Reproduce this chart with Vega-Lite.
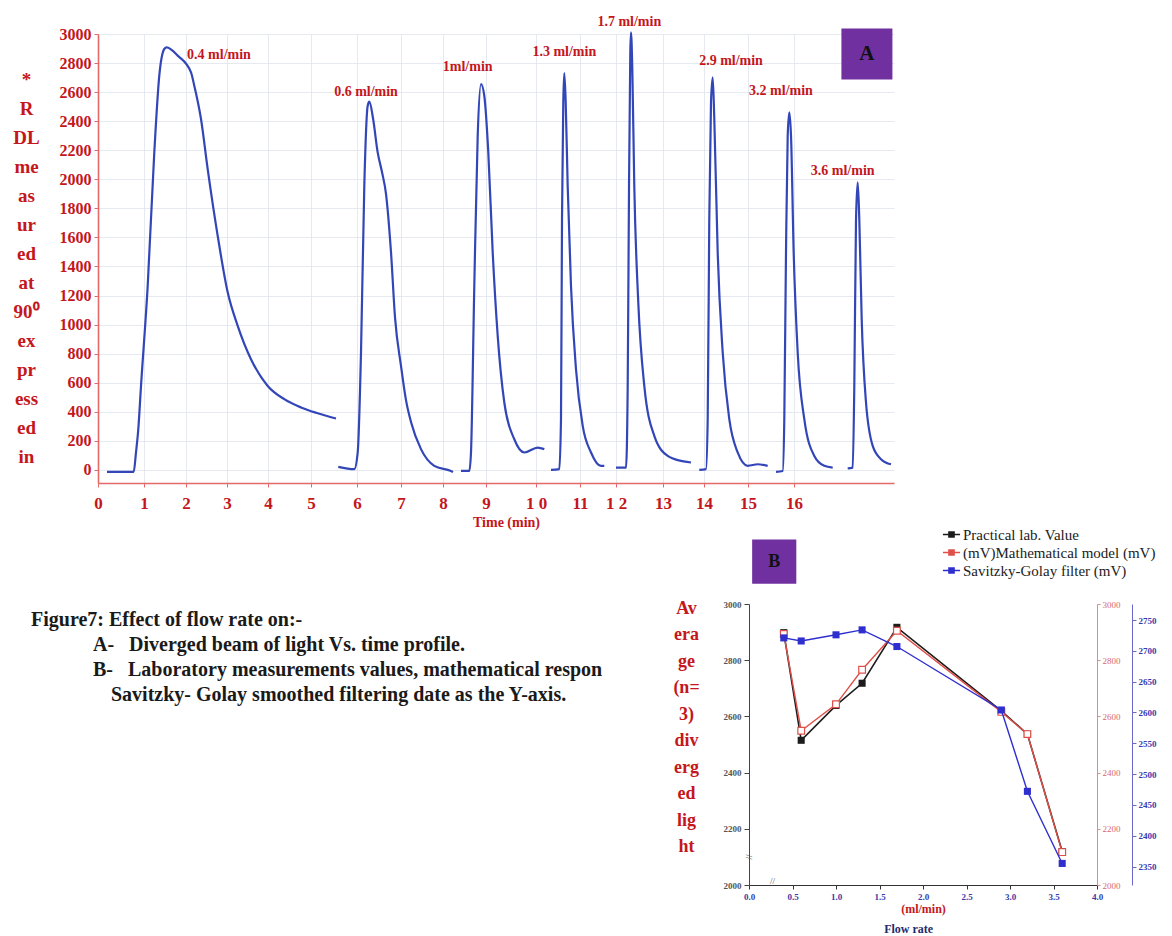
{
  "$schema": "https://vega.github.io/schema/vega-lite/v6.json",
  "background": "white",
  "padding": {"left": 12, "top": 14, "right": 4, "bottom": 0},
  "autosize": {"type": "pad"},
  "bounds": "flush",
  "spacing": 121,
  "config": {
    "view": {"stroke": null},
    "font": "Liberation Serif",
    "axis": {"labelFont": "Liberation Serif", "titleFont": "Liberation Serif", "labelFlush": false, "labelOverlap": false},
    "text": {"font": "Liberation Serif"}
  },
  "datasets": {
    "chromatogram": [
      {"rate": "0.4 ml/min", "t": 0.196, "v": -14}, {"rate": "0.4 ml/min", "t": 0.776, "v": -14}, {"rate": "0.4 ml/min", "t": 0.826, "v": 120}, {"rate": "0.4 ml/min", "t": 0.876, "v": 280}, {"rate": "0.4 ml/min", "t": 0.935, "v": 578}, {"rate": "0.4 ml/min", "t": 1.088, "v": 1267}, {"rate": "0.4 ml/min", "t": 1.245, "v": 2185}, {"rate": "0.4 ml/min", "t": 1.364, "v": 2713}, {"rate": "0.4 ml/min", "t": 1.483, "v": 2897}, {"rate": "0.4 ml/min", "t": 1.54, "v": 2908}, {"rate": "0.4 ml/min", "t": 1.802, "v": 2851}, {"rate": "0.4 ml/min", "t": 2.122, "v": 2736}, {"rate": "0.4 ml/min", "t": 2.202, "v": 2644}, {"rate": "0.4 ml/min", "t": 2.366, "v": 2415}, {"rate": "0.4 ml/min", "t": 2.529, "v": 2070}, {"rate": "0.4 ml/min", "t": 2.773, "v": 1611}, {"rate": "0.4 ml/min", "t": 3.017, "v": 1222}, {"rate": "0.4 ml/min", "t": 3.261, "v": 992}, {"rate": "0.4 ml/min", "t": 3.585, "v": 762}, {"rate": "0.4 ml/min", "t": 3.993, "v": 578}, {"rate": "0.4 ml/min", "t": 4.379, "v": 487}, {"rate": "0.4 ml/min", "t": 4.767, "v": 430}, {"rate": "0.4 ml/min", "t": 5.146, "v": 390}, {"rate": "0.4 ml/min", "t": 5.543, "v": 354},
      {"rate": "0.6 ml/min", "t": 5.593, "v": 21}, {"rate": "0.6 ml/min", "t": 5.941, "v": 5}, {"rate": "0.6 ml/min", "t": 6.016, "v": 120}, {"rate": "0.6 ml/min", "t": 6.091, "v": 808}, {"rate": "0.6 ml/min", "t": 6.166, "v": 1956}, {"rate": "0.6 ml/min", "t": 6.243, "v": 2506}, {"rate": "0.6 ml/min", "t": 6.28, "v": 2534}, {"rate": "0.6 ml/min", "t": 6.364, "v": 2420}, {"rate": "0.6 ml/min", "t": 6.47, "v": 2185}, {"rate": "0.6 ml/min", "t": 6.568, "v": 2050}, {"rate": "0.6 ml/min", "t": 6.659, "v": 1900}, {"rate": "0.6 ml/min", "t": 6.773, "v": 1497}, {"rate": "0.6 ml/min", "t": 6.864, "v": 1050}, {"rate": "0.6 ml/min", "t": 7.0, "v": 716}, {"rate": "0.6 ml/min", "t": 7.119, "v": 480}, {"rate": "0.6 ml/min", "t": 7.238, "v": 330}, {"rate": "0.6 ml/min", "t": 7.476, "v": 143}, {"rate": "0.6 ml/min", "t": 7.793, "v": 28}, {"rate": "0.6 ml/min", "t": 8.186, "v": -7}, {"rate": "0.6 ml/min", "t": 8.233, "v": -14},
      {"rate": "1ml/min", "t": 8.419, "v": -7}, {"rate": "1ml/min", "t": 8.612, "v": -7}, {"rate": "1ml/min", "t": 8.651, "v": 120}, {"rate": "1ml/min", "t": 8.728, "v": 1267}, {"rate": "1ml/min", "t": 8.807, "v": 2300}, {"rate": "1ml/min", "t": 8.884, "v": 2656}, {"rate": "1ml/min", "t": 8.96, "v": 2575}, {"rate": "1ml/min", "t": 9.046, "v": 2185}, {"rate": "1ml/min", "t": 9.134, "v": 1497}, {"rate": "1ml/min", "t": 9.234, "v": 923}, {"rate": "1ml/min", "t": 9.366, "v": 464}, {"rate": "1ml/min", "t": 9.566, "v": 211}, {"rate": "1ml/min", "t": 9.766, "v": 120}, {"rate": "1ml/min", "t": 10.039, "v": 154}, {"rate": "1ml/min", "t": 10.189, "v": 143},
      {"rate": "1.3 ml/min", "t": 10.341, "v": 0}, {"rate": "1.3 ml/min", "t": 10.53, "v": 5}, {"rate": "1.3 ml/min", "t": 10.568, "v": 349}, {"rate": "1.3 ml/min", "t": 10.591, "v": 1725}, {"rate": "1.3 ml/min", "t": 10.62, "v": 2530}, {"rate": "1.3 ml/min", "t": 10.643, "v": 2731}, {"rate": "1.3 ml/min", "t": 10.675, "v": 2530}, {"rate": "1.3 ml/min", "t": 10.72, "v": 1956}, {"rate": "1.3 ml/min", "t": 10.795, "v": 1267}, {"rate": "1.3 ml/min", "t": 10.909, "v": 693}, {"rate": "1.3 ml/min", "t": 11.075, "v": 303}, {"rate": "1.3 ml/min", "t": 11.306, "v": 120}, {"rate": "1.3 ml/min", "t": 11.583, "v": 28}, {"rate": "1.3 ml/min", "t": 11.675, "v": 28},
      {"rate": "1.7 ml/min", "t": 12.0, "v": 16}, {"rate": "1.7 ml/min", "t": 12.213, "v": 16}, {"rate": "1.7 ml/min", "t": 12.249, "v": 578}, {"rate": "1.7 ml/min", "t": 12.277, "v": 1956}, {"rate": "1.7 ml/min", "t": 12.304, "v": 2874}, {"rate": "1.7 ml/min", "t": 12.319, "v": 3012}, {"rate": "1.7 ml/min", "t": 12.347, "v": 2759}, {"rate": "1.7 ml/min", "t": 12.389, "v": 1956}, {"rate": "1.7 ml/min", "t": 12.474, "v": 1153}, {"rate": "1.7 ml/min", "t": 12.602, "v": 578}, {"rate": "1.7 ml/min", "t": 12.815, "v": 234}, {"rate": "1.7 ml/min", "t": 13.115, "v": 96}, {"rate": "1.7 ml/min", "t": 13.439, "v": 62}, {"rate": "1.7 ml/min", "t": 13.683, "v": 51},
      {"rate": "2.9 ml/min", "t": 13.885, "v": 0}, {"rate": "2.9 ml/min", "t": 14.045, "v": 5}, {"rate": "2.9 ml/min", "t": 14.084, "v": 349}, {"rate": "2.9 ml/min", "t": 14.12, "v": 1725}, {"rate": "2.9 ml/min", "t": 14.159, "v": 2530}, {"rate": "2.9 ml/min", "t": 14.198, "v": 2702}, {"rate": "2.9 ml/min", "t": 14.234, "v": 2415}, {"rate": "2.9 ml/min", "t": 14.311, "v": 1497}, {"rate": "2.9 ml/min", "t": 14.425, "v": 808}, {"rate": "2.9 ml/min", "t": 14.575, "v": 349}, {"rate": "2.9 ml/min", "t": 14.766, "v": 120}, {"rate": "2.9 ml/min", "t": 14.993, "v": 28}, {"rate": "2.9 ml/min", "t": 15.211, "v": 39}, {"rate": "2.9 ml/min", "t": 15.428, "v": 28},
      {"rate": "3.2 ml/min", "t": 15.609, "v": -14}, {"rate": "3.2 ml/min", "t": 15.754, "v": -7}, {"rate": "3.2 ml/min", "t": 15.789, "v": 349}, {"rate": "3.2 ml/min", "t": 15.826, "v": 1497}, {"rate": "3.2 ml/min", "t": 15.863, "v": 2300}, {"rate": "3.2 ml/min", "t": 15.898, "v": 2461}, {"rate": "3.2 ml/min", "t": 15.935, "v": 2300}, {"rate": "3.2 ml/min", "t": 15.993, "v": 1497}, {"rate": "3.2 ml/min", "t": 16.082, "v": 808}, {"rate": "3.2 ml/min", "t": 16.229, "v": 349}, {"rate": "3.2 ml/min", "t": 16.451, "v": 96}, {"rate": "3.2 ml/min", "t": 16.673, "v": 28}, {"rate": "3.2 ml/min", "t": 16.86, "v": 16},
      {"rate": "3.6 ml/min", "t": 17.193, "v": 10}, {"rate": "3.6 ml/min", "t": 17.304, "v": 16}, {"rate": "3.6 ml/min", "t": 17.34, "v": 578}, {"rate": "3.6 ml/min", "t": 17.378, "v": 1725}, {"rate": "3.6 ml/min", "t": 17.416, "v": 1979}, {"rate": "3.6 ml/min", "t": 17.451, "v": 1725}, {"rate": "3.6 ml/min", "t": 17.504, "v": 1038}, {"rate": "3.6 ml/min", "t": 17.6, "v": 464}, {"rate": "3.6 ml/min", "t": 17.749, "v": 165}, {"rate": "3.6 ml/min", "t": 17.933, "v": 74}, {"rate": "3.6 ml/min", "t": 18.156, "v": 39}
    ],
    "peaklabels": [
      {"rate": "0.4 ml/min", "t": 2.805, "v": 2855},
      {"rate": "0.6 ml/min", "t": 6.205, "v": 2600},
      {"rate": "1ml/min", "t": 8.574, "v": 2771},
      {"rate": "1.3 ml/min", "t": 10.643, "v": 2876},
      {"rate": "1.7 ml/min", "t": 12.283, "v": 3083},
      {"rate": "2.9 ml/min", "t": 14.614, "v": 2814},
      {"rate": "3.2 ml/min", "t": 15.717, "v": 2607},
      {"rate": "3.6 ml/min", "t": 17.082, "v": 2060}
    ],
    "flow": [
      {"series": "Practical lab. Value (mV)", "flow": 0.4, "value": 2898},
      {"series": "Practical lab. Value (mV)", "flow": 0.6, "value": 2515},
      {"series": "Practical lab. Value (mV)", "flow": 1.0, "value": 2639},
      {"series": "Practical lab. Value (mV)", "flow": 1.3, "value": 2718},
      {"series": "Practical lab. Value (mV)", "flow": 1.7, "value": 2917},
      {"series": "Practical lab. Value (mV)", "flow": 2.9, "value": 2620},
      {"series": "Practical lab. Value (mV)", "flow": 3.2, "value": 2537},
      {"series": "Practical lab. Value (mV)", "flow": 3.6, "value": 2119},
      {"series": "Mathematical model (mV)", "flow": 0.4, "value": 2893},
      {"series": "Mathematical model (mV)", "flow": 0.6, "value": 2549},
      {"series": "Mathematical model (mV)", "flow": 1.0, "value": 2643},
      {"series": "Mathematical model (mV)", "flow": 1.3, "value": 2766},
      {"series": "Mathematical model (mV)", "flow": 1.7, "value": 2905},
      {"series": "Mathematical model (mV)", "flow": 2.9, "value": 2616},
      {"series": "Mathematical model (mV)", "flow": 3.2, "value": 2537},
      {"series": "Mathematical model (mV)", "flow": 3.6, "value": 2117},
      {"series": "Savitzky-Golay filter (mV)", "flow": 0.4, "value": 2721},
      {"series": "Savitzky-Golay filter (mV)", "flow": 0.6, "value": 2716},
      {"series": "Savitzky-Golay filter (mV)", "flow": 1.0, "value": 2726},
      {"series": "Savitzky-Golay filter (mV)", "flow": 1.3, "value": 2734},
      {"series": "Savitzky-Golay filter (mV)", "flow": 1.7, "value": 2707},
      {"series": "Savitzky-Golay filter (mV)", "flow": 2.9, "value": 2604},
      {"series": "Savitzky-Golay filter (mV)", "flow": 3.2, "value": 2472},
      {"series": "Savitzky-Golay filter (mV)", "flow": 3.6, "value": 2355}
    ],
    "caption": [
      {"line": 1, "text": "Figure7: Effect of flow rate on:-"},
      {"line": 2, "text": "A-\u00a0\u00a0 Diverged beam of light Vs. time profile."},
      {"line": 3, "text": "B-\u00a0\u00a0 Laboratory measurements values, mathematical respon"},
      {"line": 4, "text": "Savitzky- Golay smoothed filtering date as the Y-axis."}
    ]
  },
  "vconcat": [
    {
      "width": 796,
      "height": 449,
      "layer": [
        {
          "data": {"name": "chromatogram"},
          "mark": {"type": "line", "color": "#3346b8", "strokeWidth": 2.2, "interpolate": "monotone"},
          "encoding": {
            "x": {
              "field": "t", "type": "quantitative",
              "scale": {"domain": [0, 1, 2, 3, 4, 5, 6, 7, 8, 9, 10, 11, 12, 13, 14, 15, 16, 18.222], "range": [0, 46, 88, 129, 170, 213, 259, 303, 345, 388, 438, 482, 518, 565, 606, 650, 696, 796], "nice": false, "zero": false},
              "axis": {
                "values": [0, 1, 2, 3, 4, 5, 6, 7, 8, 9, 10, 11, 12, 13, 14, 15, 16],
                "labelExpr": "datum.value == 10 ? '1 0' : datum.value == 12 ? '1 2' : datum.label",
                "labelOverlap": false,
                "labelColor": "#c4161c", "labelFontSize": 17, "labelFontWeight": "bold", "labelPadding": 8,
                "domainColor": "#e46a6a", "domainWidth": 1.6, "tickColor": "#e46a6a", "tickSize": 4,
                "grid": true, "gridColor": "#dfe3ec", "gridWidth": 0.8,
                "title": "Time (min)", "titleColor": "#c4161c", "titleFontSize": 14, "titleFontWeight": "bold", "titlePadding": 4, "titleX": 408
              }
            },
            "y": {
              "field": "v", "type": "quantitative",
              "scale": {"domain": [-90, 3000], "nice": false, "zero": false},
              "axis": {
                "values": [0, 200, 400, 600, 800, 1000, 1200, 1400, 1600, 1800, 2000, 2200, 2400, 2600, 2800, 3000],
                "tickCount": 16,
                "format": "d", "labelOverlap": false,
                "labelColor": "#c4161c", "labelFontSize": 16, "labelFontWeight": "bold", "labelPadding": 3,
                "domainColor": "#e46a6a", "domainWidth": 1.6, "tickColor": "#e46a6a", "tickSize": 4,
                "grid": true, "gridColor": "#dfe3ec", "gridWidth": 0.8,
                "title": ["*", "R", "DL", "me", "as", "ur", "ed", "at", "90⁰", "ex", "pr", "ess", "ed", "in"],
                "titleColor": "#c4161c", "titleFontSize": 19, "titleFontWeight": "bold", "titleAngle": 0,
                "titleAlign": "center", "titleBaseline": "top", "titleX": -72, "titleY": 36, "titleLineHeight": 29
              }
            },
            "detail": {"field": "rate"}
          }
        },
        {
          "data": {"name": "peaklabels"},
          "mark": {"type": "text", "fontSize": 14, "fontWeight": "bold", "color": "#c4161c"},
          "encoding": {
            "x": {"field": "t", "type": "quantitative"},
            "y": {"field": "v", "type": "quantitative"},
            "text": {"field": "rate"}
          }
        },
        {
          "data": {"values": [{}]},
          "mark": {"type": "square", "size": 2601, "color": "#7030a0", "opacity": 1},
          "encoding": {"x": {"datum": 17.62, "type": "quantitative"}, "y": {"datum": 2862, "type": "quantitative"}}
        },
        {
          "data": {"values": [{}]},
          "mark": {"type": "text", "text": "A", "fontSize": 21, "fontWeight": "bold", "color": "#111111"},
          "encoding": {"x": {"datum": 17.62, "type": "quantitative"}, "y": {"datum": 2862, "type": "quantitative"}}
        }
      ]
    },
    {
      "hconcat": [
        {
          "width": 651,
          "height": 107,
          "data": {"name": "caption"},
          "layer": [
            {
              "transform": [{"filter": "datum.line == 1"}],
              "mark": {"type": "text", "align": "left", "baseline": "middle", "fontSize": 20, "fontWeight": "bold", "color": "#1a1a1a"},
              "encoding": {
                "x": {"value": -67},
                "y": {"field": "line", "type": "ordinal", "axis": null, "scale": {"type": "point", "padding": 0.64}},
                "text": {"field": "text"}
              }
            },
            {
              "transform": [{"filter": "datum.line == 2 || datum.line == 3"}],
              "mark": {"type": "text", "align": "left", "baseline": "middle", "fontSize": 20, "fontWeight": "bold", "color": "#1a1a1a"},
              "encoding": {
                "x": {"value": -5},
                "y": {"field": "line", "type": "ordinal", "axis": null},
                "text": {"field": "text"}
              }
            },
            {
              "transform": [{"filter": "datum.line == 4"}],
              "mark": {"type": "text", "align": "left", "baseline": "middle", "fontSize": 20, "fontWeight": "bold", "color": "#1a1a1a"},
              "encoding": {
                "x": {"value": 13},
                "y": {"field": "line", "type": "ordinal", "axis": null},
                "text": {"field": "text"}
              }
            }
          ]
        },
        {
          "width": 348,
          "height": 281,
          "data": {"name": "flow"},
          "layer": [
            {
              "layer": [
                {
                  "transform": [{"filter": "datum.series == 'Practical lab. Value (mV)'"}],
                  "mark": {"type": "line", "strokeWidth": 1.6},
                  "encoding": {
                    "x": {
                      "field": "flow", "type": "quantitative",
                      "scale": {"domain": [0, 4], "nice": false, "zero": false},
                      "axis": {
                        "values": [0, 0.5, 1, 1.5, 2, 2.5, 3, 3.5, 4], "format": ".1f", "labelOverlap": false,
                        "labelColor": "#3a3aa8", "labelFontSize": 9, "labelFontWeight": "bold", "labelPadding": 3,
                        "domainColor": "#333333", "tickColor": "#333333", "tickSize": 4, "grid": false,
                        "title": "(ml/min)", "titleColor": "#c4161c", "titleFontSize": 12, "titleFontWeight": "bold", "titlePadding": 2
                      }
                    },
                    "y": {
                      "field": "value", "type": "quantitative",
                      "scale": {"domain": [2000, 3000], "nice": false, "zero": false},
                      "axis": {
                        "orient": "left",
                        "values": [2000, 2200, 2400, 2600, 2800, 3000], "format": "d", "labelOverlap": false,
                        "labelColor": "#555555", "labelFontSize": 9, "labelFontWeight": "bold", "labelPadding": 3,
                        "domainColor": "#444444", "tickColor": "#444444", "tickSize": 5, "grid": false,
                        "title": ["Av", "era", "ge", "(n=", "3)", "div", "erg", "ed", "lig", "ht"],
                        "titleColor": "#c4161c", "titleFontSize": 18, "titleFontWeight": "bold", "titleAngle": 0,
                        "titleAlign": "center", "titleBaseline": "top", "titleX": -63, "titleY": -5, "titleLineHeight": 26.5
                      }
                    },
                    "color": {
                      "field": "series", "type": "nominal",
                      "scale": {"domain": ["Practical lab. Value (mV)", "Mathematical model (mV)", "Savitzky-Golay filter (mV)"], "range": ["#1c1c1c", "#e0504a", "#2f2fd0"]},
                      "legend": {
                        "orient": "none", "legendX": 846, "legendY": 493, "title": null,
                        "labelFont": "Liberation Serif", "labelFontSize": 15, "labelColor": "#222222", "labelLimit": 0,
                        "labelExpr": "datum.label == 'Practical lab. Value (mV)' ? 'Practical lab. Value' : datum.label == 'Mathematical model (mV)' ? '(mV)Mathematical model (mV)' : datum.label",
                        "symbolType": "M-1.5,0H-0.5M0.5,0H1.5M-0.45,-0.45H0.45V0.45H-0.45Z",
                        "symbolSize": 130, "symbolStrokeWidth": 1.5, "rowPadding": 2
                      }
                    }
                  }
                },
                {
                  "transform": [{"filter": "datum.series == 'Practical lab. Value (mV)'"}],
                  "mark": {"type": "point", "shape": "square", "filled": true, "size": 50, "opacity": 1},
                  "encoding": {
                    "x": {"field": "flow", "type": "quantitative"},
                    "y": {"field": "value", "type": "quantitative"},
                    "color": {"field": "series", "type": "nominal"}
                  }
                },
                {
                  "data": {"values": [{}]},
                  "mark": {"type": "square", "size": 1950, "color": "#7030a0", "opacity": 1},
                  "encoding": {"x": {"datum": 0.29, "type": "quantitative"}, "y": {"datum": 3151, "type": "quantitative"}}
                },
                {
                  "data": {"values": [{}]},
                  "mark": {"type": "text", "text": "B", "fontSize": 18, "fontWeight": "bold", "color": "#111111"},
                  "encoding": {"x": {"datum": 0.29, "type": "quantitative"}, "y": {"datum": 3151, "type": "quantitative"}}
                },
                {
                  "data": {"values": [{}]},
                  "mark": {"type": "text", "text": "Flow rate", "fontSize": 12, "fontWeight": "bold", "color": "#1f2a6e"},
                  "encoding": {"x": {"datum": 1.835, "type": "quantitative"}, "y": {"datum": 1845, "type": "quantitative"}}
                },
                {
                  "data": {"values": [{}]},
                  "mark": {"type": "text", "text": "//", "fontSize": 9, "color": "#555555", "angle": 90},
                  "encoding": {"x": {"datum": 0, "type": "quantitative"}, "y": {"datum": 2100, "type": "quantitative"}}
                },
                {
                  "data": {"values": [{}]},
                  "mark": {"type": "text", "text": "//", "fontSize": 9, "color": "#555555"},
                  "encoding": {"x": {"datum": 0.27, "type": "quantitative"}, "y": {"datum": 2015, "type": "quantitative"}}
                }
              ]
            },
            {
              "transform": [{"filter": "datum.series == 'Mathematical model (mV)'"}],
              "encoding": {
                "x": {"field": "flow", "type": "quantitative"},
                "y": {
                  "field": "value", "type": "quantitative",
                  "scale": {"domain": [2000, 3000], "nice": false, "zero": false},
                  "axis": {
                    "orient": "right", "values": [2000, 2200, 2400, 2600, 2800, 3000], "format": "d", "labelOverlap": false,
                    "labelColor": "#d86a6a", "labelFontSize": 9, "labelPadding": 2,
                    "domainColor": "#e08a8a", "tickColor": "#e08a8a", "tickSize": 3, "grid": false, "title": null
                  }
                },
                "color": {"field": "series", "type": "nominal"}
              },
              "layer": [
                {"mark": {"type": "line", "strokeWidth": 1.4}},
                {"mark": {"type": "point", "shape": "square", "filled": false, "fill": "white", "size": 45, "strokeWidth": 1.2, "opacity": 1}}
              ]
            },
            {
              "transform": [{"filter": "datum.series == 'Savitzky-Golay filter (mV)'"}],
              "encoding": {
                "x": {"field": "flow", "type": "quantitative"},
                "y": {
                  "field": "value", "type": "quantitative",
                  "scale": {"domain": [2320, 2776], "nice": false, "zero": false},
                  "axis": {
                    "orient": "right", "offset": 35, "values": [2350, 2400, 2450, 2500, 2550, 2600, 2650, 2700, 2750], "format": "d", "labelOverlap": false,
                    "labelColor": "#3a3ab0", "labelFontSize": 9, "labelFontWeight": "bold", "labelPadding": 2,
                    "domainColor": "#6a6acc", "tickColor": "#6a6acc", "tickSize": 4, "grid": false, "title": null
                  }
                },
                "color": {"field": "series", "type": "nominal"}
              },
              "layer": [
                {"mark": {"type": "line", "strokeWidth": 1.4}},
                {"mark": {"type": "point", "shape": "square", "filled": true, "size": 50, "opacity": 1}}
              ]
            }
          ],
          "resolve": {"scale": {"y": "independent"}}
        }
      ],
      "spacing": 0,
      "bounds": "flush"
    }
  ]
}
